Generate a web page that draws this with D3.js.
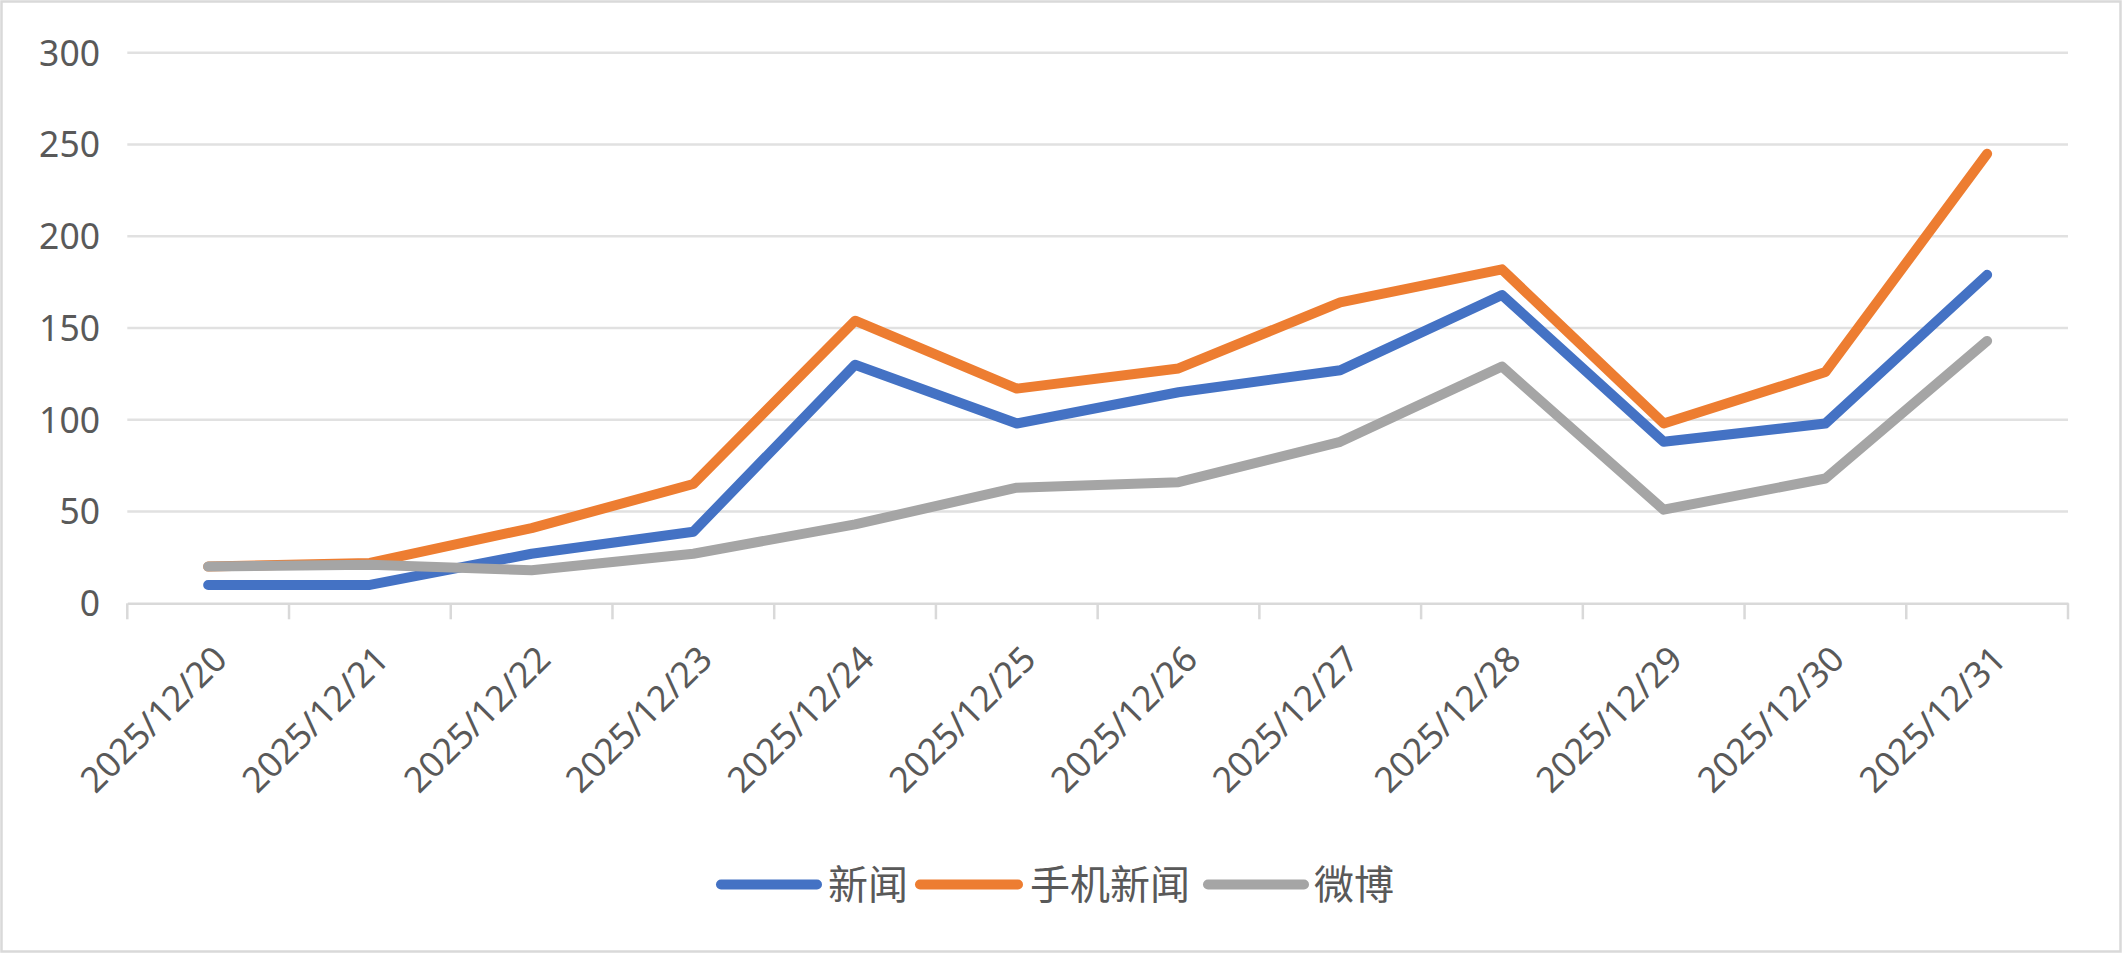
<!DOCTYPE html>
<html><head><meta charset="utf-8">
<script src="https://cdn.jsdelivr.net/npm/d3@7"></script>
<style>html,body{margin:0;padding:0;background:#fff;}svg{display:block;}</style>
</head><body>
<svg id="chart" width="2122" height="953"></svg>
<script>
const categories = ["2025/12/20","2025/12/21","2025/12/22","2025/12/23","2025/12/24","2025/12/25","2025/12/26","2025/12/27","2025/12/28","2025/12/29","2025/12/30","2025/12/31"];
const seriesNames = ["新闻","手机新闻","微博"];
const news = [10,10,27,39,130,98,115,127,168,88,98,179];
const mobileNews = [20,22,41,65,154,117,128,164,182,98,126,245];
const weibo = [20,21,18,27,43,63,66,88,129,51,68,143];
const yTicks = [0,50,100,150,200,250,300];
const colors = ["#4472C4","#ED7D31","#A5A5A5"];

(function(){
const svg = d3.select("#chart");
const W = 2122, H = 953;
const pL = 127.3, pR = 2068, pT = 52.8, pB = 603.3;
const font = "'Noto Sans','Open Sans',sans-serif";
const cjk = "'Noto Sans CJK SC','Noto Sans',sans-serif";

svg.append("rect").attr("x",1.5).attr("y",1.5).attr("width",W-3).attr("height",H-3)
  .attr("fill","#fff").attr("stroke","#D9D9D9").attr("stroke-width",2.5);

const x = d3.scaleBand().domain(categories).range([pL,pR]).padding(0);
const y = d3.scaleLinear().domain([0,300]).range([pB,pT]);

// gridlines
svg.append("g").selectAll("line").data(yTicks.filter(d=>d>0)).join("line")
  .attr("x1",pL).attr("x2",pR).attr("y1",d=>y(d)).attr("y2",d=>y(d))
  .attr("stroke","#E1E1E1").attr("stroke-width",2.4);

// y labels
svg.append("g").selectAll("text").data(yTicks).join("text")
  .attr("x",100).attr("y",d=>y(d)).attr("dy","0.36em")
  .attr("text-anchor","end").attr("font-family",font).attr("font-size",35.5)
  .attr("fill","#595959").text(d=>d);

// x axis
const xAxis = d3.axisBottom(x).tickSize(0).tickFormat("");
const gx = svg.append("g").attr("transform",`translate(0,${pB})`).call(xAxis);
gx.select(".domain").attr("stroke","#D9D9D9").attr("stroke-width",2.5);
const bounds = categories.map(c=>x(c)).concat([pR]);
svg.append("g").selectAll("line").data(bounds).join("line")
  .attr("x1",d=>d).attr("x2",d=>d).attr("y1",pB).attr("y2",pB+16)
  .attr("stroke","#D9D9D9").attr("stroke-width",2.5);

svg.append("g").selectAll("text").data(categories).join("text")
  .attr("transform",d=>`translate(${x(d)+x.bandwidth()/2+21},${pB+58}) rotate(-45)`)
  .attr("text-anchor","end").attr("font-family",font).attr("font-size",35.5)
  .attr("fill","#595959").text(d=>d);

// lines
const allSeries = [news, mobileNews, weibo];
const line = d3.line().x((d,i)=>x(categories[i])+x.bandwidth()/2).y(d=>y(d));
allSeries.forEach((s,k)=>{
  svg.append("path").datum(s).attr("d",line).attr("fill","none")
    .attr("stroke",colors[k]).attr("stroke-width",10)
    .attr("stroke-linecap","round").attr("stroke-linejoin","round");
});

// legend
const legendY = 884.5;
const legendItems = [
  {name:seriesNames[0], x0:721, x1:817, tx:828},
  {name:seriesNames[1], x0:920, x1:1018, tx:1030},
  {name:seriesNames[2], x0:1208, x1:1304, tx:1314}
];
const lg = svg.append("g");
legendItems.forEach((it,k)=>{
  lg.append("line").attr("x1",it.x0).attr("x2",it.x1).attr("y1",legendY).attr("y2",legendY)
    .attr("stroke",colors[k]).attr("stroke-width",10).attr("stroke-linecap","round");
  lg.append("text").attr("x",it.tx).attr("y",legendY).attr("dy","0.36em")
    .attr("font-family",cjk).attr("font-size",40).attr("fill","#595959").text(it.name);
});
})();
</script>
</body></html>
